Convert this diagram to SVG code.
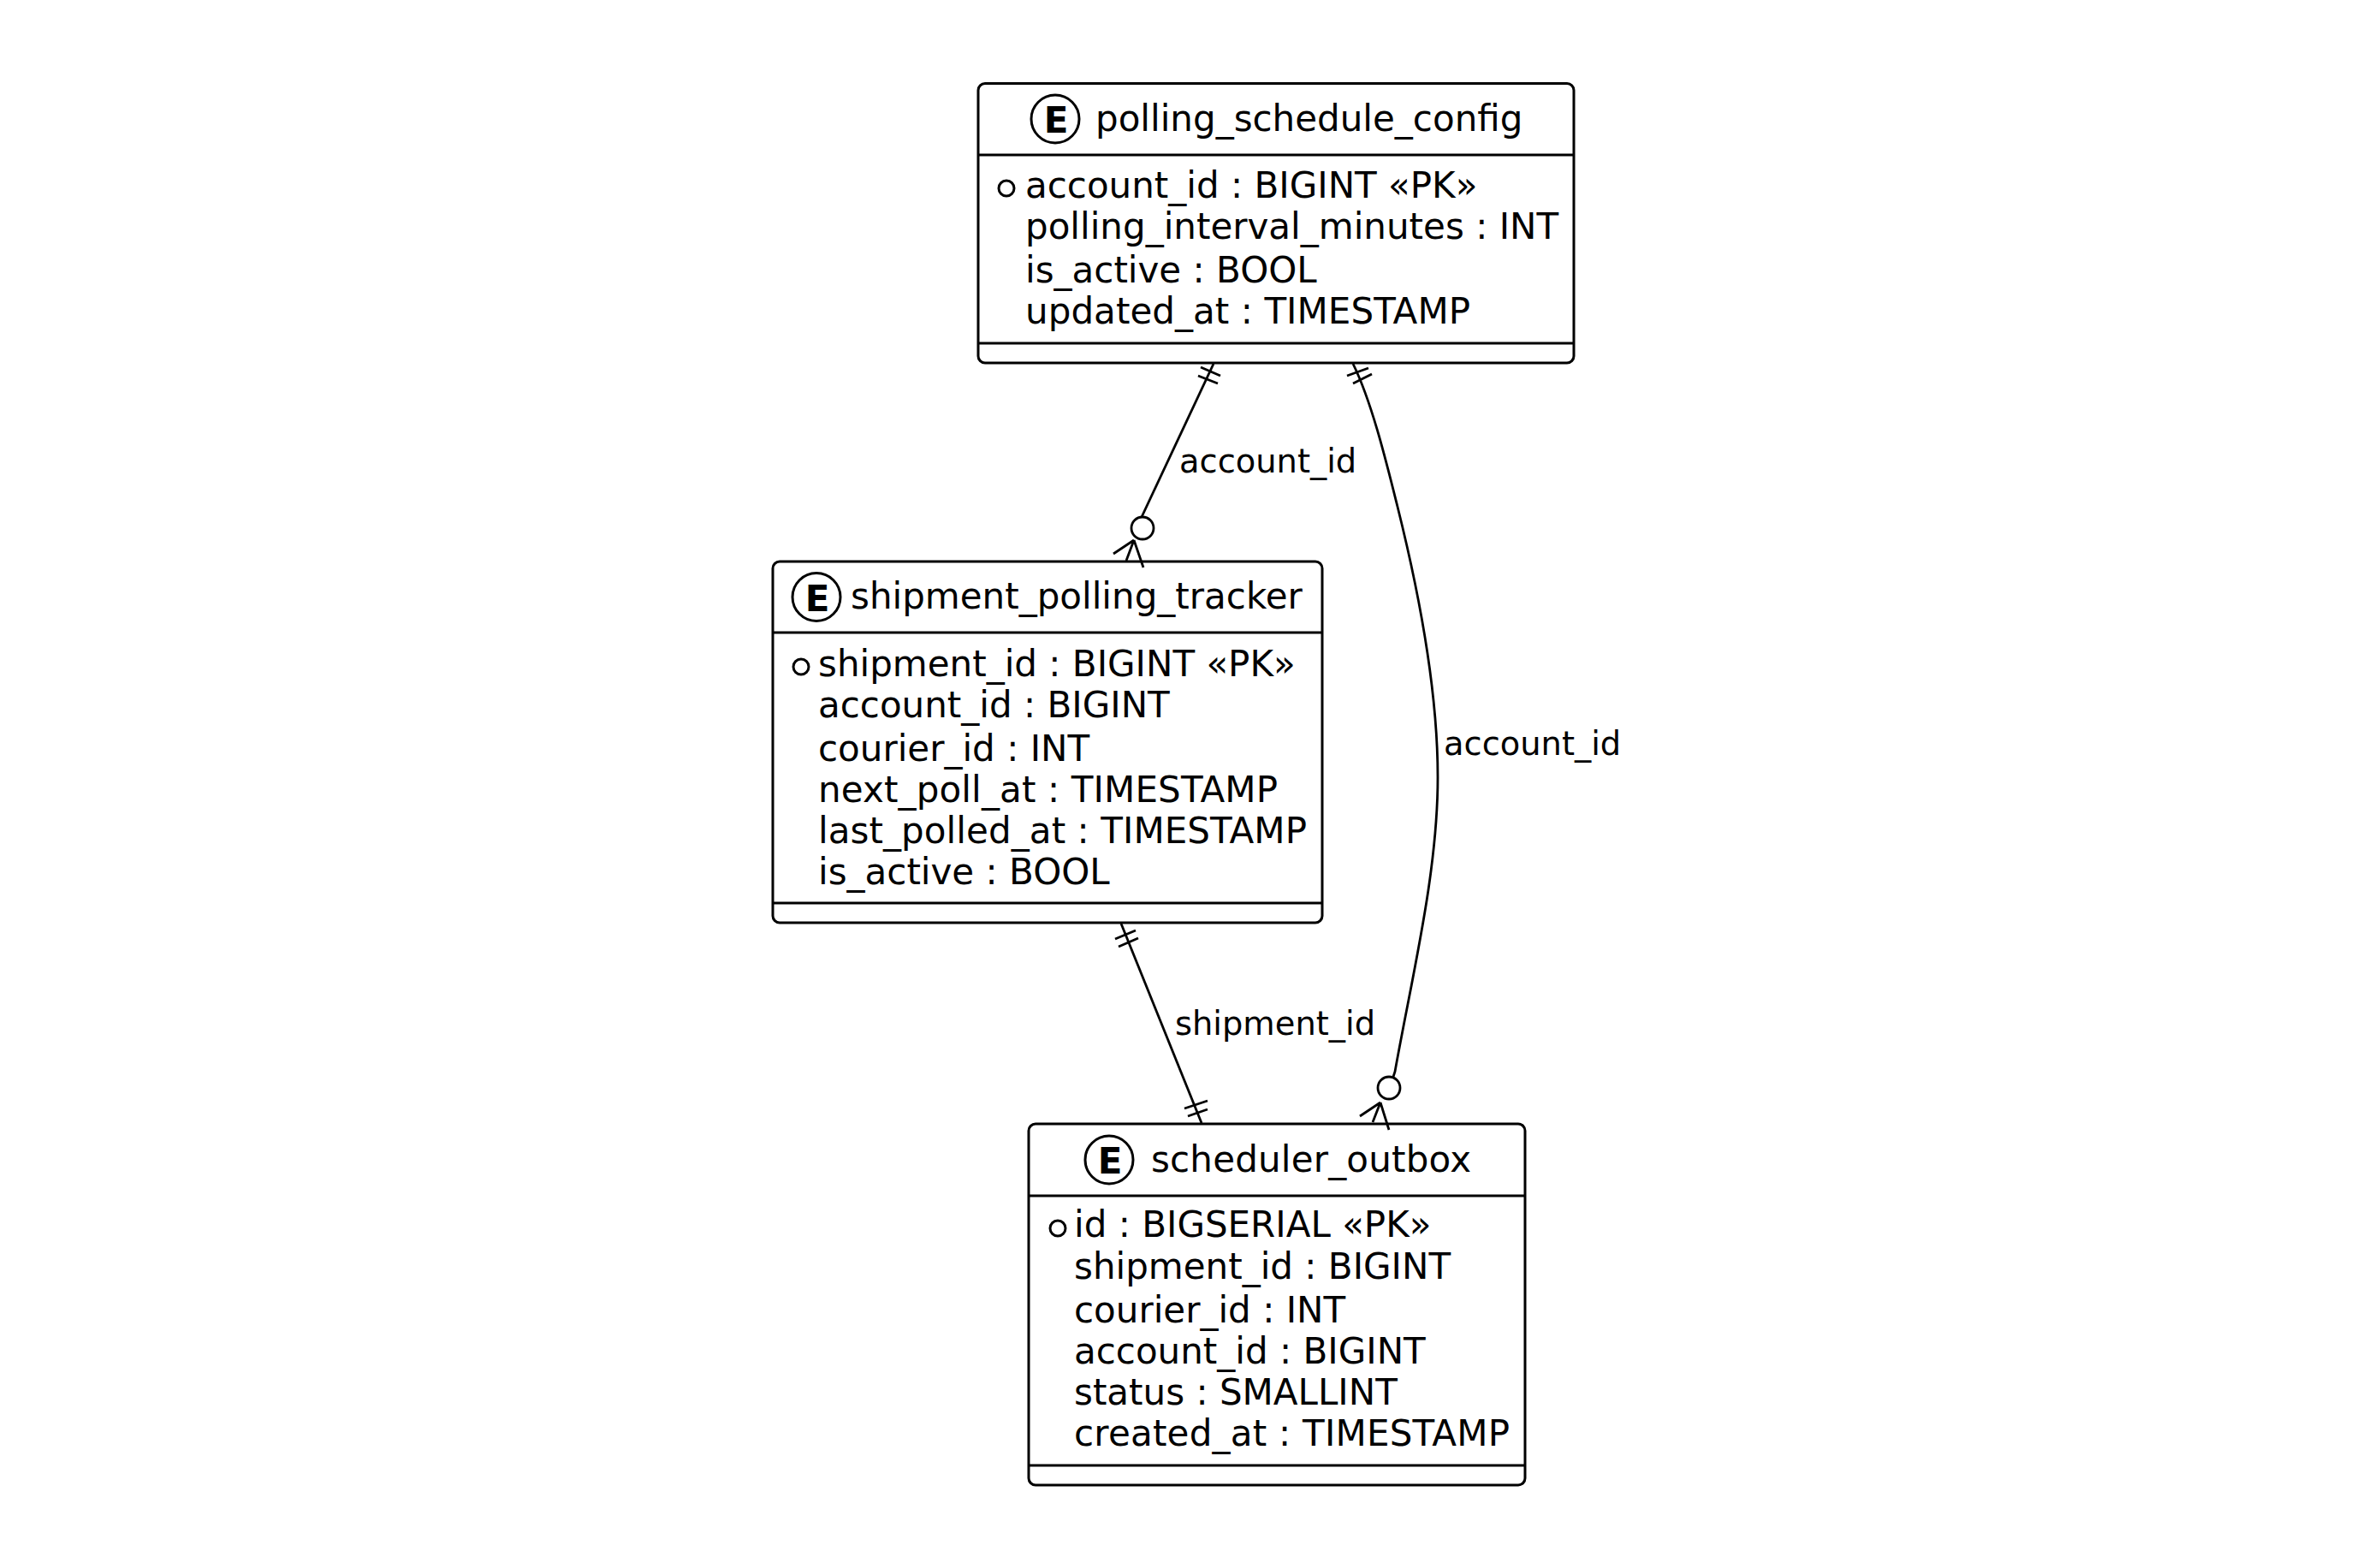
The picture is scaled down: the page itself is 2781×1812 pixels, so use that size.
<svg xmlns="http://www.w3.org/2000/svg" width="2781" height="1812" viewBox="0 0 2781 1812">
<style>
.box{fill:#fff;stroke:#000;stroke-width:3}
.sep{stroke:#000;stroke-width:3}
.t{font-family:"DejaVu Sans",sans-serif;font-size:42px;fill:#000}
.l{font-family:"DejaVu Sans",sans-serif;font-size:38.400px;fill:#000}
.e{fill:none;stroke:#000;stroke-width:2.800}
.ci{fill:#fff;stroke:#000;stroke-width:3}
.b{fill:#fff;stroke:#000;stroke-width:3}
.E{font-family:"DejaVu Sans",sans-serif;font-size:42px;font-weight:bold;fill:#000}
</style>
<rect width="2781" height="1812" fill="#fff"/>
<g id="polling_schedule_config">
<rect class="box" x="1143" y="97.500" width="696" height="326.500" rx="8"/>
<path class="sep" d="M1143 181H1839M1143 401H1839"/>
<ellipse class="ci" cx="1233" cy="139" rx="28" ry="28"/><text class="E" x="1234" y="155" text-anchor="middle">E</text>
<text class="t" x="1280" y="153">polling_schedule_config</text>
<circle class="b" cx="1176" cy="220" r="9"/>
<text class="t" x="1198" y="231">account_id : BIGINT «PK»</text>
<text class="t" x="1198" y="279">polling_interval_minutes : INT</text>
<text class="t" x="1198" y="330">is_active : BOOL</text>
<text class="t" x="1198" y="378" textLength="520">updated_at : TIMESTAMP</text>
</g>
<g id="shipment_polling_tracker">
<rect class="box" x="903" y="656" width="642" height="422" rx="8"/>
<path class="sep" d="M903 739H1545M903 1055H1545"/>
<ellipse class="ci" cx="954" cy="697.500" rx="28" ry="28"/><text class="E" x="955" y="713.500" text-anchor="middle">E</text>
<text class="t" x="994" y="711">shipment_polling_tracker</text>
<circle class="b" cx="936" cy="779" r="9"/>
<text class="t" x="956" y="789.500">shipment_id : BIGINT «PK»</text>
<text class="t" x="956" y="837.500">account_id : BIGINT</text>
<text class="t" x="956" y="888.500">courier_id : INT</text>
<text class="t" x="956" y="936.500" textLength="537">next_poll_at : TIMESTAMP</text>
<text class="t" x="956" y="984.500" textLength="571">last_polled_at : TIMESTAMP</text>
<text class="t" x="956" y="1032.500">is_active : BOOL</text>
</g>
<g id="scheduler_outbox">
<rect class="box" x="1202" y="1313" width="580" height="422" rx="8"/>
<path class="sep" d="M1202 1397H1782M1202 1712H1782"/>
<ellipse class="ci" cx="1296" cy="1355" rx="28" ry="28"/><text class="E" x="1297" y="1371" text-anchor="middle">E</text>
<text class="t" x="1345" y="1368.500" textLength="374">scheduler_outbox</text>
<circle class="b" cx="1236" cy="1435" r="9"/>
<text class="t" x="1255" y="1445">id : BIGSERIAL «PK»</text>
<text class="t" x="1255" y="1494">shipment_id : BIGINT</text>
<text class="t" x="1255" y="1545">courier_id : INT</text>
<text class="t" x="1255" y="1593">account_id : BIGINT</text>
<text class="t" x="1255" y="1641">status : SMALLINT</text>
<text class="t" x="1255" y="1689" textLength="509">created_at : TIMESTAMP</text>
</g>
<g id="connectors">
<path class="e" d="M1418 425L1334 604"/><path class="e" d="M1403 429L1426 439M1400 439L1423 448"/>
<circle class="e" cx="1335" cy="617" r="13"/><path class="e" d="M1325 631L1301 647M1325 631L1316 655M1325 631L1336 663"/>
<path class="e" d="M1581 425C1603 470 1620 540 1633 592C1656 684 1680 800 1680 908C1680 1020 1650 1140 1630 1252L1628 1258"/><path class="e" d="M1574 439L1599 430M1581 448L1603 437"/>
<circle class="e" cx="1623" cy="1271" r="13"/><path class="e" d="M1613 1288L1589 1304M1613 1288L1604 1311M1613 1288L1623 1320"/>
<path class="e" d="M1310 1079L1404 1312"/><path class="e" d="M1303 1097L1327 1087M1307 1106L1330 1096M1384 1295L1411 1286M1388 1304L1411 1296"/>
<text class="l" x="1378" y="552">account_id</text>
<text class="l" x="1687" y="882">account_id</text>
<text class="l" x="1373" y="1209">shipment_id</text>
</g>
</svg>
